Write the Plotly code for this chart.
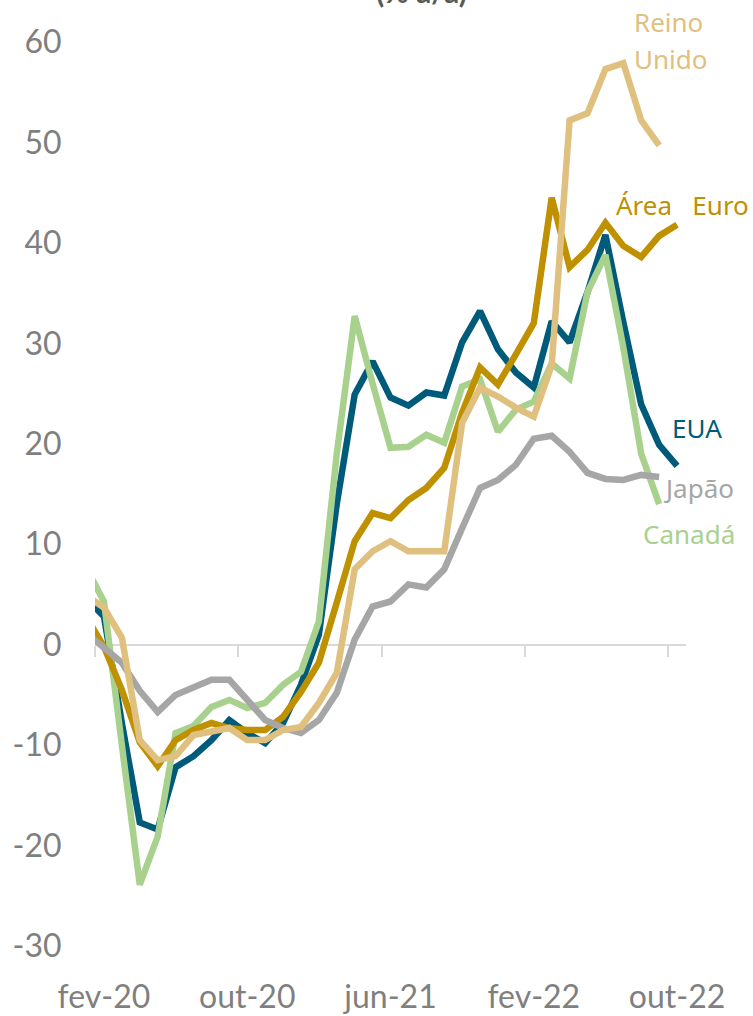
import plotly.graph_objects as go

# Months jan-20 .. out-22 (jan-20 lies just left of the visible range)
months = ["jan-20", "fev-20", "mar-20", "abr-20", "mai-20", "jun-20", "jul-20", "ago-20",
          "set-20", "out-20", "nov-20", "dez-20", "jan-21", "fev-21", "mar-21", "abr-21",
          "mai-21", "jun-21", "jul-21", "ago-21", "set-21", "out-21", "nov-21", "dez-21",
          "jan-22", "fev-22", "mar-22", "abr-22", "mai-22", "jun-22", "jul-22", "ago-22",
          "set-22", "out-22"]

eua = [4.6, 2.8, -7.8, -17.7, -18.4, -12.2, -11.1, -9.5, -7.5, -8.8, -9.8, -7.8, -4.0, 1.0,
       14.0, 24.9, 28.2, 24.6, 23.8, 25.1, 24.8, 30.1, 33.2, 29.4, 27.1, 25.6, 32.2, 30.1,
       35.1, 40.8, 32.1, 23.9, 19.9, 17.8]
canada = [7.7, 4.3, -10.0, -23.9, -19.1, -8.8, -8.1, -6.2, -5.5, -6.3, -5.8, -4.0, -2.7, 2.3,
          19.0, 32.7, 26.0, 19.6, 19.7, 20.9, 20.1, 25.7, 26.4, 21.2, 23.4, 24.2, 28.0, 26.5,
          35.1, 38.8, 29.6, 19.0, 14.0, None]
area_euro = [2.8, -0.2, -4.5, -9.7, -12.1, -9.5, -8.5, -7.8, -8.3, -8.5, -8.5, -7.2, -4.7, -1.8,
             4.2, 10.3, 13.1, 12.6, 14.4, 15.6, 17.6, 23.1, 27.6, 25.9, 28.9, 32.0, 44.5, 37.6,
             39.3, 42.0, 39.7, 38.6, 40.7, 41.8]
japao = [1.2, -0.2, -1.8, -4.6, -6.7, -5.0, -4.3, -3.5, -3.5, -5.5, -7.5, -8.3, -8.8, -7.5,
         -4.8, 0.5, 3.8, 4.3, 6.0, 5.7, 7.5, 11.6, 15.6, 16.4, 17.9, 20.5, 20.8, 19.2, 17.1,
         16.5, 16.4, 16.9, 16.7, None]
reino_unido = [4.9, 3.7, 0.7, -9.5, -11.5, -11.1, -9.0, -8.7, -8.3, -9.5, -9.5, -8.5, -8.2, -5.8,
               -2.8, 7.5, 9.3, 10.3, 9.3, 9.3, 9.3, 22.1, 25.6, 24.7, 23.6, 22.7, 27.8, 52.2,
               52.9, 57.3, 57.9, 52.2, 49.7, None]

x_labels = ["fev-20", "out-20", "jun-21", "fev-22", "out-22"]
y_ticks = [-30, -20, -10, 0, 10, 20, 30, 40, 50, 60]

# numeric positions: fev-20 = 0
xpos = [i - 1 for i in range(len(months))]
label_pos = [months.index(m) - 1 for m in x_labels]
boundary_pos = [p - 0.5 for p in label_pos]

series = [
    ("EUA", eua, "#005B7A"),
    ("Canadá", canada, "#A9D18E"),
    ("Área Euro", area_euro, "#BF9000"),
    ("Japão", japao, "#A6A6A6"),
    ("Reino Unido", reino_unido, "#DFC07F"),
]

fig = go.Figure()
for name, vals, col in series:
    fig.add_trace(go.Scatter(x=xpos, y=vals, mode="lines", name=name,
                             line=dict(color=col, width=6.5), connectgaps=False,
                             hoverinfo="skip"))
# helper trace so the tick-mark axis (x2) gets drawn
fig.add_trace(go.Scatter(x=[xpos[1]], y=[None], xaxis="x2", yaxis="y",
                         mode="lines", showlegend=False, hoverinfo="skip"))

xr = [-0.5, 32.5]
tick_font = dict(family="Lato", size=32, color="#7F7F7F")

fig.update_layout(
    width=753, height=1016,
    margin=dict(l=95, r=67, t=42, b=70),
    paper_bgcolor="white", plot_bgcolor="white",
    showlegend=False,
    xaxis=dict(range=xr, tickmode="array", tickvals=label_pos, ticktext=x_labels,
               showgrid=False, zeroline=False, showline=False, automargin=False,
               ticks="outside", ticklen=23, tickcolor="rgba(0,0,0,0)",
               tickfont=tick_font),
    xaxis2=dict(range=xr, overlaying="x", anchor="free", position=1/3, side="bottom",
                tickmode="array", tickvals=boundary_pos, showticklabels=False,
                ticks="outside", ticklen=11, tickwidth=2, tickcolor="#D9D9D9",
                automargin=False,
                showgrid=False, zeroline=False, showline=False, layer="below traces"),
    yaxis=dict(range=[-30, 60], tickmode="array", tickvals=y_ticks,
               ticktext=[str(v) for v in y_ticks], automargin=False,
               showgrid=False, zeroline=True, zerolinecolor="#D9D9D9", zerolinewidth=2,
               showline=False, ticks="outside", ticklen=26, tickcolor="rgba(0,0,0,0)",
               tickfont=tick_font),
)

ann_font = "Noto Sans"
labels = [
    ("Reino", 29.5, 1.0222, "#DFC07F", "y domain"),
    ("Unido", 29.5, 58.3, "#DFC07F", "y"),
    ("Área\u00a0\u00a0\u00a0Euro", 28.5, 43.8, "#BF9000", "y"),
    ("EUA", 31.6, 21.6, "#005B7A", "y"),
    ("Japão", 31.1, 15.6, "#A6A6A6", "y"),
    ("Canadá", 30.0, 11.0, "#A9D18E", "y"),
]
for txt, ax_, ay_, col, yr in labels:
    fig.add_annotation(x=ax_, y=ay_, xref="x", yref=yr, text=txt, showarrow=False,
                       xanchor="left", yanchor="middle",
                       font=dict(family=ann_font, size=26, color=col))

fig.add_annotation(x=0.552, y=1.056, xref="paper", yref="paper", text="<b>(% a/a)</b>",
                   showarrow=False, xanchor="center", yanchor="middle",
                   font=dict(family="Lato", size=30, color="#595959"))

# remove the default page margin so the 753x1016 figure fills the window exactly
fig.write_html("out.html", config={"displayModeBar": False},
               post_script="document.body.style.margin='0';document.body.style.overflow='hidden';")
